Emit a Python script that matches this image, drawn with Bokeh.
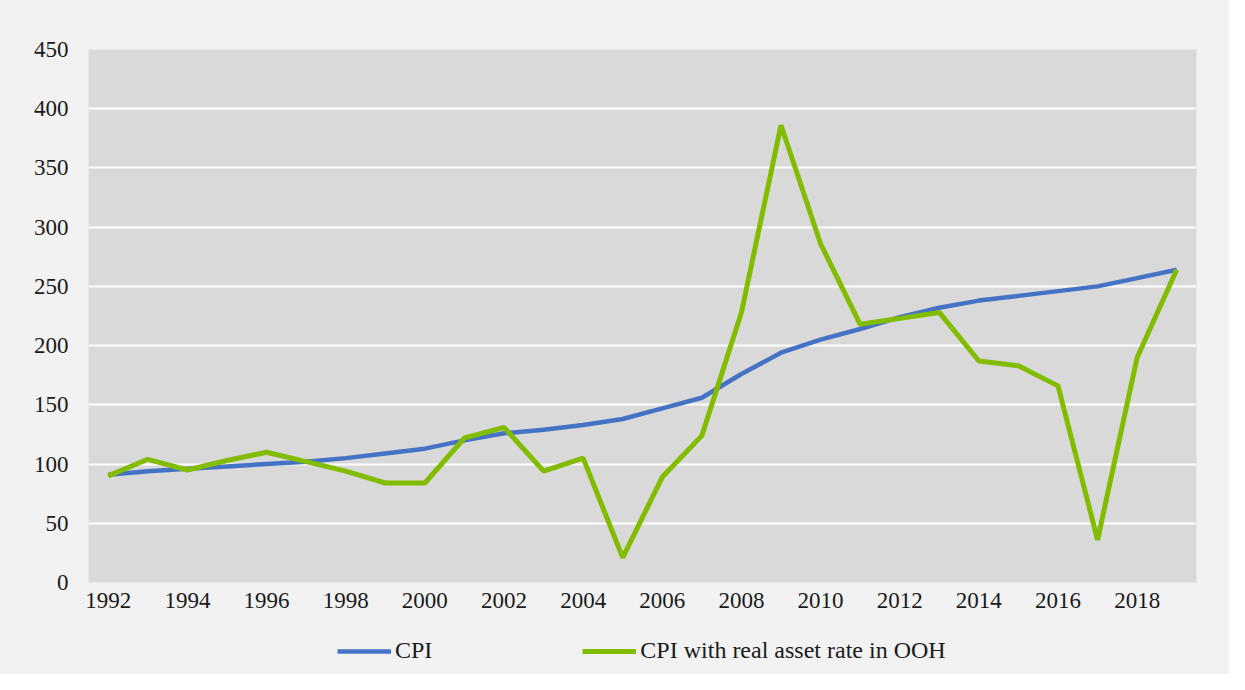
from bokeh.plotting import figure
from bokeh.layouts import column
from bokeh.models import ColumnDataSource, FixedTicker, Legend, LegendItem, Range1d
from bokeh.embed import file_html
from bokeh.resources import INLINE

years = list(range(1992, 2020))
cpi = [91, 94, 96, 98, 100, 102, 105, 109, 113, 120, 126, 129, 133, 138,
       147, 156, 176, 194, 205, 214, 224, 232, 238, 242, 246, 250, 257, 264]
cpi_ooh = [90, 104, 95, 103, 110, 102, 94, 84, 84, 122, 131, 94, 105, 21,
           89, 124, 228, 386, 286, 218, 223, 228, 187, 183, 166, 36, 190, 264]
x_ticks = list(range(1992, 2019, 2))
y_ticks = list(range(0, 451, 50))
labels = ["CPI", "CPI with real asset rate in OOH"]
colors = ["#4472C4", "#82BC00"]
widths = [4.5, 5]

src = ColumnDataSource(dict(year=years, cpi=cpi, ooh=cpi_ooh))

FONT = "Liberation Serif"
BG = "#f2f2f2"

p = figure(frame_width=1108, frame_height=533, output_backend="svg",
           toolbar_location=None,
           x_range=Range1d(1991.5, 2019.5), y_range=Range1d(0, 450),
           min_border_left=88, min_border_right=33, min_border_top=49,
           min_border_bottom=45)
p.background_fill_color = "#d9d9d9"
p.border_fill_color = BG
p.outline_line_color = None

p.line("year", "cpi", source=src, line_color=colors[0], line_width=widths[0])
p.line("year", "ooh", source=src, line_color=colors[1], line_width=widths[1])

p.xgrid.visible = False
p.ygrid.ticker = FixedTicker(ticks=y_ticks)
p.ygrid.grid_line_color = "white"
p.ygrid.grid_line_width = 2

for ax in (p.xaxis[0], p.yaxis[0]):
    ax.axis_line_color = None
    ax.major_tick_line_color = None
    ax.minor_tick_line_color = None
    ax.major_tick_out = 0
    ax.major_tick_in = 0
    ax.major_label_text_font = FONT
    ax.major_label_text_font_size = "23px"
    ax.major_label_text_color = "#1a1a1a"

p.xaxis[0].ticker = FixedTicker(ticks=x_ticks)
p.xaxis[0].major_label_standoff = 10
p.yaxis[0].ticker = FixedTicker(ticks=y_ticks)
p.yaxis[0].major_label_standoff = 20

# legend strip below the chart (hidden copies of the series act as legend proxies)
lg = figure(width=1229, height=47, output_backend="svg", toolbar_location=None,
            x_axis_type=None, y_axis_type=None,
            x_range=Range1d(1991.5, 2019.5), y_range=Range1d(0, 450),
            min_border=0)
lg.background_fill_color = BG
lg.border_fill_color = BG
lg.outline_line_color = None
lg.grid.visible = False
items = []
for lab, c, w, col in zip(labels, colors, widths, ["cpi", "ooh"]):
    r = lg.line("year", col, source=src, line_color=c, line_width=w, visible=False)
    items.append(LegendItem(label=lab, renderers=[r]))

legend = Legend(items=items, orientation="horizontal", location=(249, 10),
                glyph_width=54, label_standoff=4, spacing=150,
                padding=0, margin=0, border_line_color=None,
                background_fill_alpha=0,
                label_text_font=FONT, label_text_font_size="24px",
                label_text_color="#1a1a1a")
lg.add_layout(legend, "center")

layout = column(p, lg, spacing=0)
layout.styles = {"background-color": BG}
open("out.html", "w").write(file_html(layout, INLINE))
